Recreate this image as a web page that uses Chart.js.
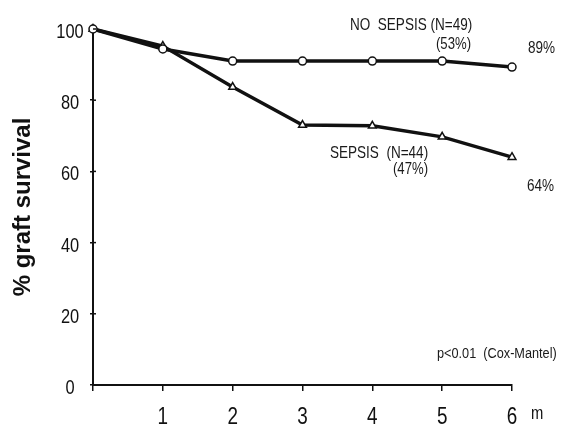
<!DOCTYPE html>
<html>
<head>
<meta charset="utf-8">
<script src="https://cdn.jsdelivr.net/npm/chart.js@4.4.1/dist/chart.umd.min.js"></script>
<style>
  html, body { margin: 0; padding: 0; background: #fff; }
  #wrap { width: 562px; height: 425px; }
</style>
</head>
<body>
<div id="wrap"><canvas id="chart" width="562" height="425"></canvas></div>
<script>
const months = [0, 1, 2, 3, 4, 5, 6];
const noSepsis = [100, 94.4, 91, 91, 91, 91, 89.3];
const sepsis = [100, 95.2, 83.7, 73, 72.8, 69.7, 64];
const yTicks = [0, 20, 40, 60, 80, 100];
const xTicks = [1, 2, 3, 4, 5, 6];

const SANS = "'Liberation Sans', Arial, sans-serif";
const INK = '#111';
const SQUEEZE = 0.82; // the original type is a narrow face

function toPoints(values) {
    return months.map((m, i) => ({ x: m, y: values[i] }));
}

function narrowText(ctx, text, x, y, size, align, baseline) {
    ctx.save();
    ctx.font = size + 'px ' + SANS;
    ctx.textAlign = align || 'left';
    ctx.textBaseline = baseline || 'middle';
    ctx.translate(x, y);
    ctx.scale(SQUEEZE, 1);
    ctx.fillText(text, 0, 0);
    ctx.restore();
}

// tick labels in a narrow face, small inner tick marks, and the loose labels
const extras = {
    id: 'extras',
    afterDraw(chart) {
        const ctx = chart.ctx;
        const xs = chart.scales.x, ys = chart.scales.y;
        ctx.save();
        ctx.strokeStyle = INK;
        ctx.lineWidth = 1.5;
        yTicks.forEach(v => {
            const py = ys.getPixelForValue(v);
            ctx.beginPath();
            ctx.moveTo(xs.left, py);
            ctx.lineTo(xs.left + 3, py);
            ctx.stroke();
        });

        ctx.fillStyle = INK;
        yTicks.forEach(v => {
            narrowText(ctx, String(v), 70, ys.getPixelForValue(v) + 9, 20, 'center', 'alphabetic');
        });
        xTicks.forEach(v => {
            narrowText(ctx, String(v), xs.getPixelForValue(v), 424, 23, 'center', 'alphabetic');
        });
        narrowText(ctx, 'm', 531, 419, 18, 'left', 'alphabetic');

        ctx.fillStyle = '#1a1a1a';
        narrowText(ctx, 'NO  SEPSIS (N=49)', 350, 25, 16.5);
        narrowText(ctx, '(53%)', 436, 45, 16);
        narrowText(ctx, 'SEPSIS  (N=44)', 330, 153, 16.5);
        narrowText(ctx, '(47%)', 393, 170, 16);
        narrowText(ctx, 'p<0.01  (Cox-Mantel)', 437, 354, 15.5);
        narrowText(ctx, '89%', 528, 48, 16.5);
        narrowText(ctx, '64%', 527, 186, 16.5);
        ctx.restore();
    }
};

const ctx = document.getElementById('chart').getContext('2d');
new Chart(ctx, {
    type: 'line',
    data: {
        datasets: [{
            label: 'NO SEPSIS (N=49)',
            data: toPoints(noSepsis),
            borderColor: INK,
            borderWidth: 3.5,
            pointStyle: 'circle',
            pointRadius: 4,
            pointBorderWidth: 1.5,
            pointBackgroundColor: '#fff',
            pointBorderColor: INK,
            tension: 0
        }, {
            label: 'SEPSIS (N=44)',
            data: toPoints(sepsis),
            borderColor: INK,
            borderWidth: 3.5,
            pointStyle: 'triangle',
            pointRadius: 4.5,
            pointBorderWidth: 1.5,
            pointBackgroundColor: '#fff',
            pointBorderColor: INK,
            tension: 0
        }]
    },
    options: {
        responsive: false,
        animation: false,
        clip: false,
        layout: { padding: { left: 0, right: 50, top: 29, bottom: 0 } },
        plugins: {
            legend: { display: false },
            tooltip: { enabled: false }
        },
        scales: {
            x: {
                type: 'linear',
                min: 0,
                max: 6,
                afterFit: s => { s.height = 40; },
                afterBuildTicks: s => { s.ticks = [0].concat(xTicks).map(v => ({ value: v })); },
                ticks: { display: false },
                grid: { drawOnChartArea: false, drawTicks: true, tickLength: 6, color: INK, lineWidth: 1.5 },
                border: { display: true, color: INK, width: 2 }
            },
            y: {
                min: 0,
                max: 100,
                afterFit: s => { s.width = 93; },
                afterBuildTicks: s => { s.ticks = yTicks.map(v => ({ value: v })); },
                ticks: { display: false },
                grid: { drawOnChartArea: false, drawTicks: true, tickLength: 3, color: INK, lineWidth: 1.5 },
                border: { display: true, color: INK, width: 2 },
                title: {
                    display: true,
                    text: '% graft survival',
                    color: INK,
                    padding: { top: 9, bottom: 0 },
                    font: { family: SANS, size: 24, weight: 'bold' }
                }
            }
        }
    },
    plugins: [extras]
});
</script>
</body>
</html>
